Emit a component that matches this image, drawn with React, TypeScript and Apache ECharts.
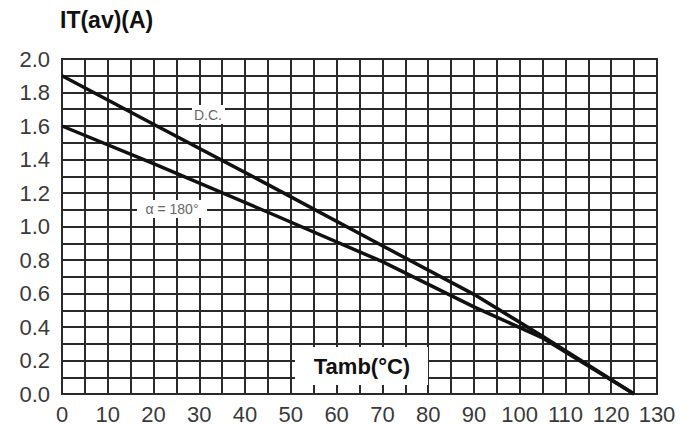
import React, { useEffect, useRef } from "react";
import * as echarts from "echarts";

const tempC = [0, 20, 45, 70, 90, 105, 125];
const dcCurrent = [1.9, 1.61, 1.25, 0.885, 0.595, 0.345, 0];
const a180Current = [1.6, 1.375, 1.085, 0.79, 0.52, 0.335, 0];
const yTitle = "IT(av)(A)";
const xTitle = "Tamb(°C)";
const dcLabel = "D.C.";
const a180Label = "α = 180°";

const FONT = "'Liberation Sans', Arial, sans-serif";

export default function App() {
  const ref = useRef<HTMLDivElement>(null);
  useEffect(() => {
    if (!ref.current) return;
    const chart = echarts.init(ref.current, null, { renderer: "svg" });
    const gridCol = "#2a2a2a";
    chart.setOption({
      animation: false,
      backgroundColor: "#ffffff",
      grid: { left: 62, right: 37, top: 59, bottom: 30, show: true, borderColor: gridCol, borderWidth: 2 },
      xAxis: {
        type: "value",
        min: 0,
        max: 130,
        interval: 10,
        axisLine: { show: false },
        axisTick: { show: false },
        minorTick: { show: false, splitNumber: 2 },
        splitLine: { show: true, lineStyle: { color: gridCol, width: 2 } },
        minorSplitLine: { show: true, lineStyle: { color: gridCol, width: 2 } },
        axisLabel: { color: "#3a3a3a", fontSize: 22, fontFamily: FONT, margin: 9 },
      },
      yAxis: {
        type: "value",
        min: 0,
        max: 2,
        interval: 0.2,
        axisLine: { show: false },
        axisTick: { show: false },
        minorTick: { show: false, splitNumber: 2 },
        splitLine: { show: true, lineStyle: { color: gridCol, width: 2 } },
        minorSplitLine: { show: true, lineStyle: { color: gridCol, width: 2 } },
        axisLabel: {
          color: "#3a3a3a",
          fontSize: 22,
          fontFamily: FONT,
          margin: 12,
          formatter: (v: number) => v.toFixed(1),
        },
      },
      series: [
        {
          type: "line",
          data: tempC.map((t, i) => [t, dcCurrent[i]]),
          showSymbol: false,
          smooth: false,
          lineStyle: { color: "#111", width: 3.5, join: "round" },
          z: 5,
        },
        {
          type: "line",
          data: tempC.map((t, i) => [t, a180Current[i]]),
          showSymbol: false,
          smooth: false,
          lineStyle: { color: "#111", width: 3.5, join: "round" },
          z: 5,
        },
      ],
      graphic: [
        {
          type: "text",
          left: 60,
          top: 8,
          z: 100,
          style: { text: yTitle, fontSize: 23, fontWeight: "bold", fontFamily: FONT, fill: "#111" },
        },
        {
          type: "rect",
          z: 100,
          shape: { x: 295, y: 347, width: 133, height: 38 },
          style: { fill: "#ffffff" },
        },
        {
          type: "text",
          z: 101,
          x: 362,
          y: 366,
          style: {
            text: xTitle,
            fontSize: 22,
            fontWeight: "bold",
            fontFamily: FONT,
            fill: "#111",
            align: "center",
            verticalAlign: "middle",
          },
        },
        {
          type: "rect",
          z: 100,
          shape: { x: 192, y: 105, width: 33, height: 19 },
          style: { fill: "#ffffff" },
        },
        {
          type: "text",
          z: 101,
          x: 208,
          y: 115,
          style: {
            text: dcLabel,
            fontSize: 14,
            fontFamily: FONT,
            fill: "#666",
            align: "center",
            verticalAlign: "middle",
          },
        },
        {
          type: "rect",
          z: 100,
          shape: { x: 137, y: 200, width: 70, height: 18 },
          style: { fill: "#ffffff" },
        },
        {
          type: "text",
          z: 101,
          x: 172,
          y: 209,
          style: {
            text: a180Label,
            fontSize: 14,
            fontFamily: FONT,
            fill: "#666",
            align: "center",
            verticalAlign: "middle",
          },
        },
      ],
    });
    return () => chart.dispose();
  }, []);
  return <div ref={ref} style={{ position: "fixed", left: 0, top: 0, width: 694, height: 425 }} />;
}
